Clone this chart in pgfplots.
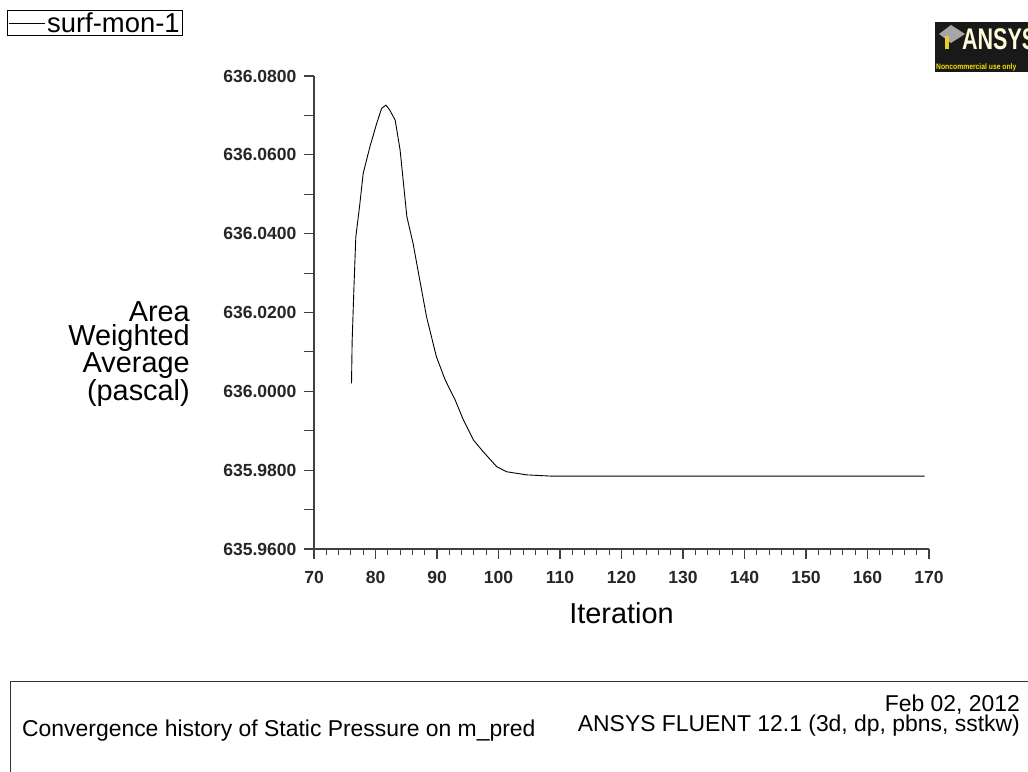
\documentclass[border=0pt]{standalone}
\usepackage{pgfplots}
\pgfplotsset{compat=1.18}
\usepackage{fontspec}
\setmainfont{Liberation Sans}
\begin{document}
\begin{tikzpicture}[x=1bp,y=1bp]
\useasboundingbox (0,0) rectangle (1028,772);
\fill[white] (0,0) rectangle (1028,772);
\begin{axis}[
  at={(314bp,223bp)}, anchor=south west,
  width=615bp, height=473bp, scale only axis=true,
  xmin=70, xmax=170, ymin=-0.04, ymax=0.08,
  axis x line*=bottom, axis y line*=left,
  axis line style={-, draw=black!75, line width=1.3pt},
  tick align=outside,
  scaled y ticks=false, scaled x ticks=false,
  xtick={70,80,...,170}, minor x tick num=4,
  ytick={-0.04,-0.02,0,0.02,0.04,0.06,0.08},
  minor ytick={-0.03,-0.01,0.01,0.03,0.05,0.07},
  yticklabels={635.9600,635.9800,636.0000,636.0200,636.0400,636.0600,636.0800},
  major tick length=10bp, minor tick length=6bp,
  every tick/.style={black!75, line width=1.1pt},
  minor y tick style={/pgfplots/minor tick length=10bp},
  /pgf/number format/assume math mode=true,
  ticklabel style={font=\fontsize{17.6}{20}\selectfont\bfseries, text=black!85},
  yticklabel style={xshift=-4bp},
  xticklabel style={yshift=-9bp},
  xlabel={Iteration},
  xlabel style={font=\fontsize{29}{30}\selectfont, yshift=-12bp},
  ylabel={},
  legend entries={surf-mon-1},
  legend style={at={(-0.4992,1.1395)}, anchor=north west, draw=black, line width=0.8pt,
    font=\fontsize{27.5}{26}\selectfont, inner xsep=1bp, inner ysep=0bp,
    /tikz/every even column/.append style={column sep=0pt}},
  legend image code/.code={\draw[black, line width=0.8pt] (0bp,0bp) -- (36bp,0bp);},
  clip=false,
]
\addplot[black, line width=0.9pt, mark=none] coordinates {
(76.1,0.0020) (76.2,0.0126) (76.5,0.0266) (76.8,0.0392) (77.4,0.0468)
(78.0,0.0553) (79.1,0.0621) (80.2,0.0680) (81.0,0.0718) (81.7,0.0726)
(82.3,0.0714) (83.2,0.0688) (84.0,0.0612) (85.1,0.0443) (86.1,0.0376)
(87.2,0.0282) (88.3,0.0189) (89.9,0.0088) (91.3,0.0030) (92.9,-0.0020)
(94.3,-0.0073) (95.9,-0.0123) (97.5,-0.0153) (99.7,-0.0191) (101.3,-0.0204)
(104.6,-0.0212) (108.4,-0.0215) (114,-0.0215) (169.3,-0.0215)
};
\end{axis}
% y label
\node[anchor=east, align=right, font=\fontsize{29}{24.6}\selectfont, inner sep=0pt] at (190,418) {Area\\Weighted\\Average\\(pascal)};
% logo
\fill[black!90] (935,700) rectangle (1030,750);
\fill[gray!70] (939,738) -- (951,747) -- (965,738) -- (951,729) -- cycle;
\fill[yellow!60!brown] (945,723) rectangle (949,736);
\node[anchor=west, font=\fontsize{30}{30}\selectfont\bfseries, text=white!85!yellow, inner sep=0pt, xscale=0.72] at (962,733) {ANSYS};
\node[anchor=west, font=\fontsize{8}{8}\selectfont\bfseries, text=yellow!85!orange, inner sep=0pt, xscale=0.85] at (936,705) {Noncommercial use only};
% bottom box
\draw[black!80, line width=1pt] (10,-5) rectangle (1040,90);
\node[anchor=west, font=\fontsize{23}{24}\selectfont, inner sep=0pt] at (22,41) {Convergence history of Static Pressure on m\_pred};
\node[anchor=east, align=right, font=\fontsize{23}{19.5}\selectfont, inner sep=0pt] at (1020,56.5) {Feb 02, 2012\\ANSYS FLUENT 12.1 (3d, dp, pbns, sstkw)};
\end{tikzpicture}
\end{document}
